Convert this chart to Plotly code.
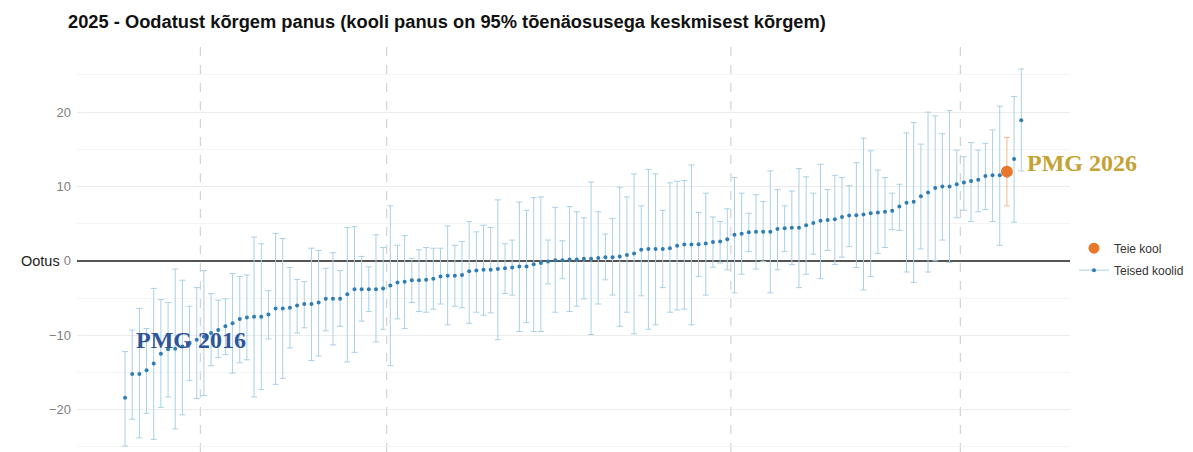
import plotly.graph_objects as go

# Schools sorted by estimated contribution (index = rank position)
values = [
    -18.4, -15.2, -15.2, -14.7, -13.8, -12.5, -11.9, -11.8, -11.5, -11.1,
    -10.6, -10.2, -9.7, -9.3, -8.8, -8.4, -7.8, -7.6, -7.5, -7.5,
    -7.2, -6.4, -6.4, -6.3, -6.0, -5.8, -5.8, -5.6, -5.1, -5.1,
    -5.1, -4.5, -3.8, -3.8, -3.8, -3.8, -3.7, -3.3, -2.9, -2.8,
    -2.6, -2.6, -2.55, -2.4, -2.1, -2.0, -2.0, -1.9, -1.4, -1.3,
    -1.2, -1.2, -1.1, -1.0, -0.9, -0.75, -0.75, -0.45, -0.3, -0.1,
    0.1, 0.1, 0.2, 0.2, 0.3, 0.3, 0.4, 0.5, 0.5, 0.6,
    0.8, 1.0, 1.5, 1.6, 1.6, 1.6, 1.7, 2.05, 2.2, 2.2,
    2.25, 2.35, 2.55, 2.6, 2.9, 3.5, 3.65, 3.85, 3.9, 3.9,
    3.9, 4.3, 4.4, 4.45, 4.45, 4.8, 5.1, 5.4, 5.5, 5.6,
    5.9, 6.1, 6.15, 6.25, 6.4, 6.5, 6.6, 6.75, 7.3, 7.8,
    7.95, 8.7, 9.2, 9.8, 10.0, 10.0, 10.3, 10.55, 10.75, 10.9,
    11.4, 11.5, 11.5, 12.0, 13.7, 18.9,
]
lower = [
    -24.9, -21.3, -23.8, -20.5, -24.0, -19.7, -18.3, -22.6, -20.7, -16.1,
    -18.5, -18.1, -14.1, -13.0, -12.6, -15.1, -13.7, -13.3, -18.3, -17.3,
    -10.5, -16.6, -15.8, -11.7, -9.7, -9.0, -13.4, -12.8, -9.4, -11.3,
    -8.8, -13.6, -12.3, -8.1, -6.8, -10.9, -9.2, -14.1, -7.8, -9.1,
    -5.6, -6.8, -6.9, -6.5, -5.8, -8.6, -6.1, -6.3, -8.4, -6.9,
    -7.3, -7.0, -10.6, -4.4, -4.6, -9.5, -8.3, -9.5, -9.5, -3.1,
    -6.9, -2.4, -6.8, -6.1, -5.1, -9.9, -5.8, -2.55, -4.6, -8.8,
    -6.9, -9.8, -4.7, -9.2, -8.6, -3.6, -6.9, -6.6, -6.5, -8.6,
    -2.1, -4.6, -0.85, -0.3, -1.2, -4.3, -1.8, 1.25, -1.1, -0.1,
    -4.3, -1.2, 1.25, -0.5, -3.6, -1.8, 0.9, -2.4, 1.4, -0.5,
    0.5, 1.9, -0.9, -3.9, -2.1, 1.0, 1.8, 4.2, 4.1, -1.5,
    -2.9, 1.6, -1.5, 0.0, 2.8, -0.2, 5.8, 6.8, 5.3, 6.6,
    6.9, 5.3, 2.1, 7.4, 5.2, 12.1,
]
upper = [
    -12.2, -9.3, -6.4, -9.1, -3.7, -5.2, -5.6, -1.1, -2.6, -6.1,
    -3.6, -1.3, -4.4, -5.3, -5.1, -1.7, -2.1, -1.9, 3.2, 2.3,
    -4.0, 3.7, 3.0, -0.9, -2.5, -2.8, 1.7, 1.4, -1.0, 1.1,
    -1.3, 4.5, 4.6, 0.6, -0.8, 3.5, 1.8, 7.4, 2.1, 3.4,
    0.35, 1.5, 1.8, 1.7, 1.7, 4.7, 2.1, 2.6, 5.3, 3.9,
    4.8, 4.5, 8.2, 2.3, 2.8, 7.9, 6.8, 8.5, 8.6, 2.8,
    7.2, 2.7, 7.3, 6.6, 5.8, 10.6, 6.6, 3.6, 5.7, 9.9,
    8.6, 11.7, 7.4, 12.3, 11.7, 6.8, 10.5, 10.7, 10.8, 12.9,
    6.5, 9.1, 5.9, 5.3, 7.0, 11.2, 9.1, 6.4, 8.9, 8.0,
    12.1, 9.6, 7.4, 9.4, 12.4, 11.3, 9.1, 13.0, 9.6, 11.5,
    11.2, 10.1, 13.2, 16.5, 14.8, 12.2, 11.2, 9.1, 10.3, 17.2,
    18.6, 15.7, 20.0, 19.5, 17.1, 20.2, 14.9, 14.0, 15.9, 14.9,
    15.8, 17.6, 20.8, 16.6, 22.1, 25.8,
]
own_index = 123                      # "Teie kool"
group_breaks = [10.5, 36.5, 84.5, 116.5]
y_ticks = [-20, -10, 0, 10, 20]
title_text = "2025 - Oodatust kõrgem panus (kooli panus on 95% tõenäosusega keskmisest kõrgem)"
legend_names = ["Teie kool", "Teised koolid"]
label_low = ("PMG 2016", 1.2, -10.6)
label_high = ("PMG 2026", 125.5, 13.2)

ranks = list(range(len(values)))
others = [i for i in ranks if i != own_index]

BLUE = "#2f7db5"
BLUE_LIGHT = "#a9d0e6"
ORANGE = "#e8772b"
ORANGE_LIGHT = "#f5b98c"

fig = go.Figure()

fig.add_trace(go.Scatter(
    x=others,
    y=[values[i] for i in others],
    mode="markers",
    marker=dict(size=4, color=BLUE),
    error_y=dict(type="data", symmetric=False,
                 array=[upper[i] - values[i] for i in others],
                 arrayminus=[values[i] - lower[i] for i in others],
                 color=BLUE_LIGHT, thickness=1, width=3),
    showlegend=False, hoverinfo="skip",
))
fig.add_trace(go.Scatter(
    x=[own_index], y=[values[own_index]],
    mode="markers",
    marker=dict(size=12, color=ORANGE),
    error_y=dict(type="data", symmetric=False,
                 array=[upper[own_index] - values[own_index]],
                 arrayminus=[values[own_index] - lower[own_index]],
                 color=ORANGE_LIGHT, thickness=1, width=3),
    showlegend=False, hoverinfo="skip",
))
# legend entries
fig.add_trace(go.Scatter(x=[None], y=[None], mode="markers", legendgroup="a",
                         marker=dict(size=11, color=ORANGE), name=legend_names[0]))
fig.add_trace(go.Scatter(x=[None], y=[None], mode="lines+markers", legendgroup="b",
                         line=dict(color=BLUE_LIGHT, width=1),
                         marker=dict(size=4, color=BLUE), name=legend_names[1]))

for b in group_breaks:
    fig.add_shape(type="line", xref="x", yref="paper", x0=b, x1=b, y0=0, y1=1,
                  line=dict(color="#c9c9c9", width=1, dash="dash"), layer="below")

fig.add_annotation(x=label_low[1], y=label_low[2], text=f"<b>{label_low[0]}</b>",
                   showarrow=False, xanchor="left", yanchor="middle",
                   font=dict(family="Liberation Serif", size=24, color="#2f5597"))
fig.add_annotation(x=label_high[1], y=label_high[2], text=f"<b>{label_high[0]}</b>",
                   showarrow=False, xanchor="left", yanchor="middle",
                   font=dict(family="Liberation Serif", size=24, color="#c4a233"))
fig.add_annotation(xref="paper", yref="y", x=-0.0155, y=0, text="Ootus",
                   showarrow=False, xanchor="right", yanchor="middle",
                   font=dict(family="Liberation Sans", size=14.5, color="#222222"))

fig.update_layout(
    width=1193, height=452,
    margin=dict(l=69, r=131, t=32, b=8, autoexpand=False),
    paper_bgcolor="white", plot_bgcolor="white",
    title=dict(text=f"<b>{title_text}</b>", x=60 / 1193, xanchor="left",
               xref="container", yref="container", y=1 - 14 / 452, yanchor="middle",
               font=dict(family="Liberation Sans", size=18.3, color="#111111")),
    xaxis=dict(range=[-6.7, 131.8], showgrid=False, zeroline=False,
               showticklabels=False, ticks=""),
    yaxis=dict(range=[-25.7, 29.7], tickvals=y_ticks, showgrid=True,
               gridcolor="#ececec", gridwidth=1,
               minor=dict(tickvals=[-25, -15, -5, 5, 15, 25], showgrid=True,
                          gridcolor="#f4f4f4", gridwidth=1),
               zeroline=True, zerolinecolor="#555555", zerolinewidth=1.5,
               tickfont=dict(family="Liberation Sans", size=13, color="#7f7f7f"),
               ticks="", ticklabelstandoff=5),
    legend=dict(x=1.004, y=0.53, xanchor="left", yanchor="top",
                font=dict(family="Liberation Sans", size=12, color="#333333"),
                bgcolor="rgba(0,0,0,0)", tracegroupgap=3),
    font=dict(family="Liberation Sans"),
)

fig.write_html("out.html")
